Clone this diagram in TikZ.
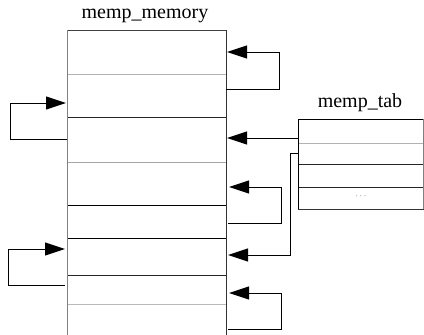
\documentclass[tikz,border=0pt]{standalone}
\usepackage{fontspec}
\setmainfont{Liberation Serif}
\usetikzlibrary{arrows.meta, positioning}

\tikzset{
  link/.style={line width=1pt, -{Triangle[length=20pt,width=13pt]}},
  rowline/.style={line width=1pt},
}

\begin{document}
\begin{tikzpicture}[x=1pt, y=-1pt, font=\fontsize{20}{22}\selectfont]
    \useasboundingbox (0,0) rectangle (424,335);

    % memory pool
    \foreach \y/\c in {30/black!75, 74/gray!60, 117/black!85, 162/gray!70,
                       205/black, 238/black, 275/black!85, 304/gray!55}
        \draw[rowline, \c] (67,\y) -- (226,\y);
    \draw[rowline, gray] (67,30) -- (67,335);
    \draw[rowline, black!80] (226,30) -- (226,335);
    \node (mem) at (145,16) {memp\_memory};

    % table
    \foreach \y/\c in {119/black, 143/gray!60, 164/black!85, 187/black!85, 209/black!80}
        \draw[rowline, \c] (298,\y) -- (423.5,\y);
    \draw[rowline] (298,119) -- (298,209);
    \draw[rowline, gray] (423.5,119) -- (423.5,209);
    \node (tab) at (360,103) {memp\_tab};
    \node[font=\small, text=black!70] (dots) at (361,196) {$\cdots$};

    % link ends
    \coordinate (r1in) at (227,52);
    \coordinate (r2out) at (226,89);
    \coordinate (r2in) at (66,103);
    \coordinate (r3out) at (67,139);
    \coordinate (r3in) at (227,138);
    \coordinate (r4in) at (229,187);
    \coordinate (r5out) at (228,223);
    \coordinate (r6in) at (65,249);
    \coordinate (r6rin) at (228,255);
    \coordinate (r7out) at (65,285);
    \coordinate (r7in) at (229,293);
    \coordinate (r8out) at (228,329);
    \coordinate (t1) at (298,138);
    \coordinate (t2) at (298,153);

    % free-list links
    \draw[link] (r2out) -- ++(53,0) |- (r1in);
    \draw[link] (r3out) -- ++(-57,0) |- (r2in);
    \draw[link] (r5out) -- ++(53,0) |- (r4in);
    \draw[link] (r7out) -- ++(-57,0) |- (r6in);
    \draw[link] (r8out) -- ++(53,0) |- (r7in);

    % table entries
    \draw[link] (t1) -- (r3in);
    \draw[link] (t2) -- ++(-8,0) |- (r6rin);
\end{tikzpicture}
\end{document}
